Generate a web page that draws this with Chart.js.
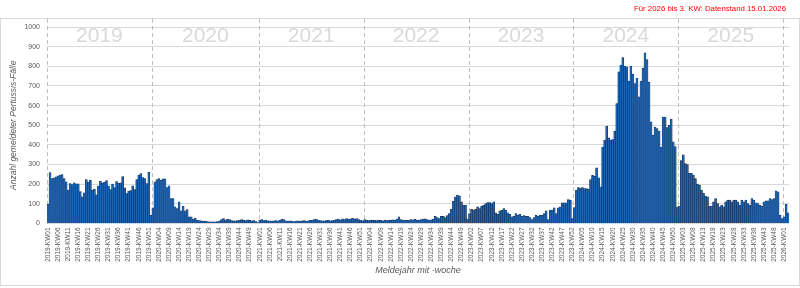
<!DOCTYPE html>
<html><head><meta charset="utf-8">
<script src="https://cdn.jsdelivr.net/npm/chart.js@4"></script>
<style>html,body{margin:0;padding:0;background:#fff;}#c{display:block;}</style>
</head><body>
<canvas id="c" width="800" height="288"></canvas>
<script>
const years = [2019, 2020, 2021, 2022, 2023, 2024, 2025, 2026];
const weeksPerYear = [52, 53, 52, 52, 52, 52, 52, 3];

const cases2019 = [98,259,228,232,237,242,247,249,229,212,170,203,198,207,202,202,163,136,156,224,211,221,170,175,146,190,215,205,210,219,190,172,201,183,213,205,207,239,181,152,164,168,192,173,224,245,254,234,228,203,261,42];
const cases2020 = [80,212,224,229,220,227,227,183,192,127,127,85,76,110,64,88,64,71,34,34,22,27,18,15,14,12,12,10,9,8,8,9,10,12,20,25,18,22,20,15,14,13,15,18,20,17,15,19,17,13,15,10,5];
const cases2021 = [18,20,15,17,14,13,12,14,15,13,18,22,20,14,12,13,12,10,12,14,12,13,15,12,14,16,18,20,22,18,15,14,13,15,17,14,15,18,20,22,18,24,20,25,22,24,26,22,25,20,18,14];
const cases2022 = [20,18,15,17,16,18,15,17,16,14,17,15,18,16,19,18,22,34,20,18,17,16,18,20,19,21,17,18,20,22,24,20,18,19,22,37,30,25,37,37,30,40,51,72,113,135,144,141,110,93,93,22];
const cases2023 = [51,72,68,72,85,76,88,93,101,107,107,101,110,54,47,64,68,76,68,54,47,34,37,51,42,47,37,40,37,37,30,20,30,42,37,42,42,51,64,20,68,68,80,51,80,85,105,105,105,122,119,25];
const cases2024 = [81,169,183,180,183,178,178,174,223,245,240,283,233,186,389,424,496,436,424,427,470,610,772,806,845,801,797,725,801,760,712,739,644,725,790,868,834,720,517,449,491,483,470,389,542,542,488,500,532,415,391,84];
const cases2025 = [89,320,350,305,300,255,255,246,229,200,195,170,153,139,136,89,89,110,127,102,85,93,85,110,119,119,110,119,119,110,93,119,110,119,102,93,127,119,105,102,93,89,110,115,115,127,122,127,166,161,42,25];
const cases2026 = [34,97,54];

const yTicks = {min: 0, max: 1000, step: 100};
const yAxisTitle = 'Anzahl gemeldeter Pertussis-Fälle';
const xAxisTitle = 'Meldejahr mit -woche';
const noteText = 'Für 2026 bis 3. KW: Datenstand 15.01.2026';

const labels = [];
years.forEach((y, i) => {
  for (let w = 1; w <= weeksPerYear[i]; w++) labels.push(y + '-KW' + String(w).padStart(2, '0'));
});
const values = [].concat(cases2019, cases2020, cases2021, cases2022, cases2023, cases2024, cases2025, cases2026);

const FONT = "'Liberation Sans', Arial, sans-serif";
const GREY = '#595959';

const decor = {
  id: 'decor',
  beforeDraw(chart) {
    const ctx = chart.ctx;
    ctx.save();
    ctx.strokeStyle = '#d9d9d9';
    ctx.lineWidth = 1;
    ctx.strokeRect(0.5, 18.5, 799, 267);
    ctx.fillStyle = '#ff0000';
    ctx.font = '7.8px ' + FONT;
    ctx.textAlign = 'right';
    ctx.textBaseline = 'middle';
    ctx.fillText(noteText, 786, 9);
    ctx.restore();
  },
  beforeDatasetsDraw(chart) {
    const ctx = chart.ctx;
    const x = chart.scales.x;
    const area = chart.chartArea;
    const half = (x.getPixelForValue(1) - x.getPixelForValue(0)) / 2;
    ctx.save();
    let start = 0;
    const bounds = [0];
    weeksPerYear.forEach(n => { start += n; bounds.push(start); });
    ctx.strokeStyle = '#bfbfbf';
    ctx.lineWidth = 1;
    ctx.setLineDash([4, 3]);
    for (let b = 0; b < bounds.length - 1; b++) {
      const px = Math.round(x.getPixelForValue(bounds[b]) - half) + 0.5;
      ctx.beginPath();
      ctx.moveTo(px, 19);
      ctx.lineTo(px, area.bottom);
      ctx.stroke();
    }
    ctx.setLineDash([]);
    ctx.fillStyle = '#d9d9d9';
    ctx.font = '21px ' + FONT;
    ctx.textAlign = 'center';
    ctx.textBaseline = 'middle';
    for (let b = 0; b < years.length - 1; b++) {
      const a = x.getPixelForValue(bounds[b]) - half;
      const e = x.getPixelForValue(bounds[b + 1]) - half;
      ctx.fillText(String(years[b]), (a + e) / 2, 36);
    }
    ctx.restore();
  }
};

new Chart(document.getElementById('c'), {
  type: 'bar',
  data: {
    labels: labels,
    datasets: [{
      data: values,
      backgroundColor: '#1f63b3',
      borderColor: '#10294a',
      borderWidth: 0.5,
      barPercentage: 1,
      categoryPercentage: 1
    }]
  },
  options: {
    responsive: false,
    animation: false,
    devicePixelRatio: 1,
    layout: {padding: {top: 27, right: 8, bottom: 8, left: 0}},
    plugins: {legend: {display: false}, tooltip: {enabled: false}},
    scales: {
      x: {
        grid: {display: false, drawTicks: false},
        border: {display: false},
        ticks: {
          autoSkip: false, maxRotation: 90, minRotation: 90, padding: 4,
          font: {size: 6.5, family: FONT}, color: GREY,
          callback: (v, i) => (i % 5 === 0 ? labels[i] : '')
        },
        title: {display: true, text: xAxisTitle, font: {size: 9, style: 'italic', family: FONT}, color: GREY, padding: {top: 0, bottom: 4}},
        afterFit: s => { s.height = 288 - 8 - 223.5; }
      },
      y: {
        min: yTicks.min, max: yTicks.max,
        ticks: {stepSize: yTicks.step, font: {size: 7, family: FONT}, color: GREY, padding: 7, callback: v => String(v)},
        grid: {color: '#d9d9d9', drawTicks: false},
        border: {display: false},
        title: {display: true, text: yAxisTitle, font: {size: 8.5, style: 'italic', family: FONT}, color: GREY, padding: {top: 9, bottom: 0}},
        afterFit: s => { s.width = 47; }
      }
    }
  },
  plugins: [decor]
});
</script>
</body></html>
